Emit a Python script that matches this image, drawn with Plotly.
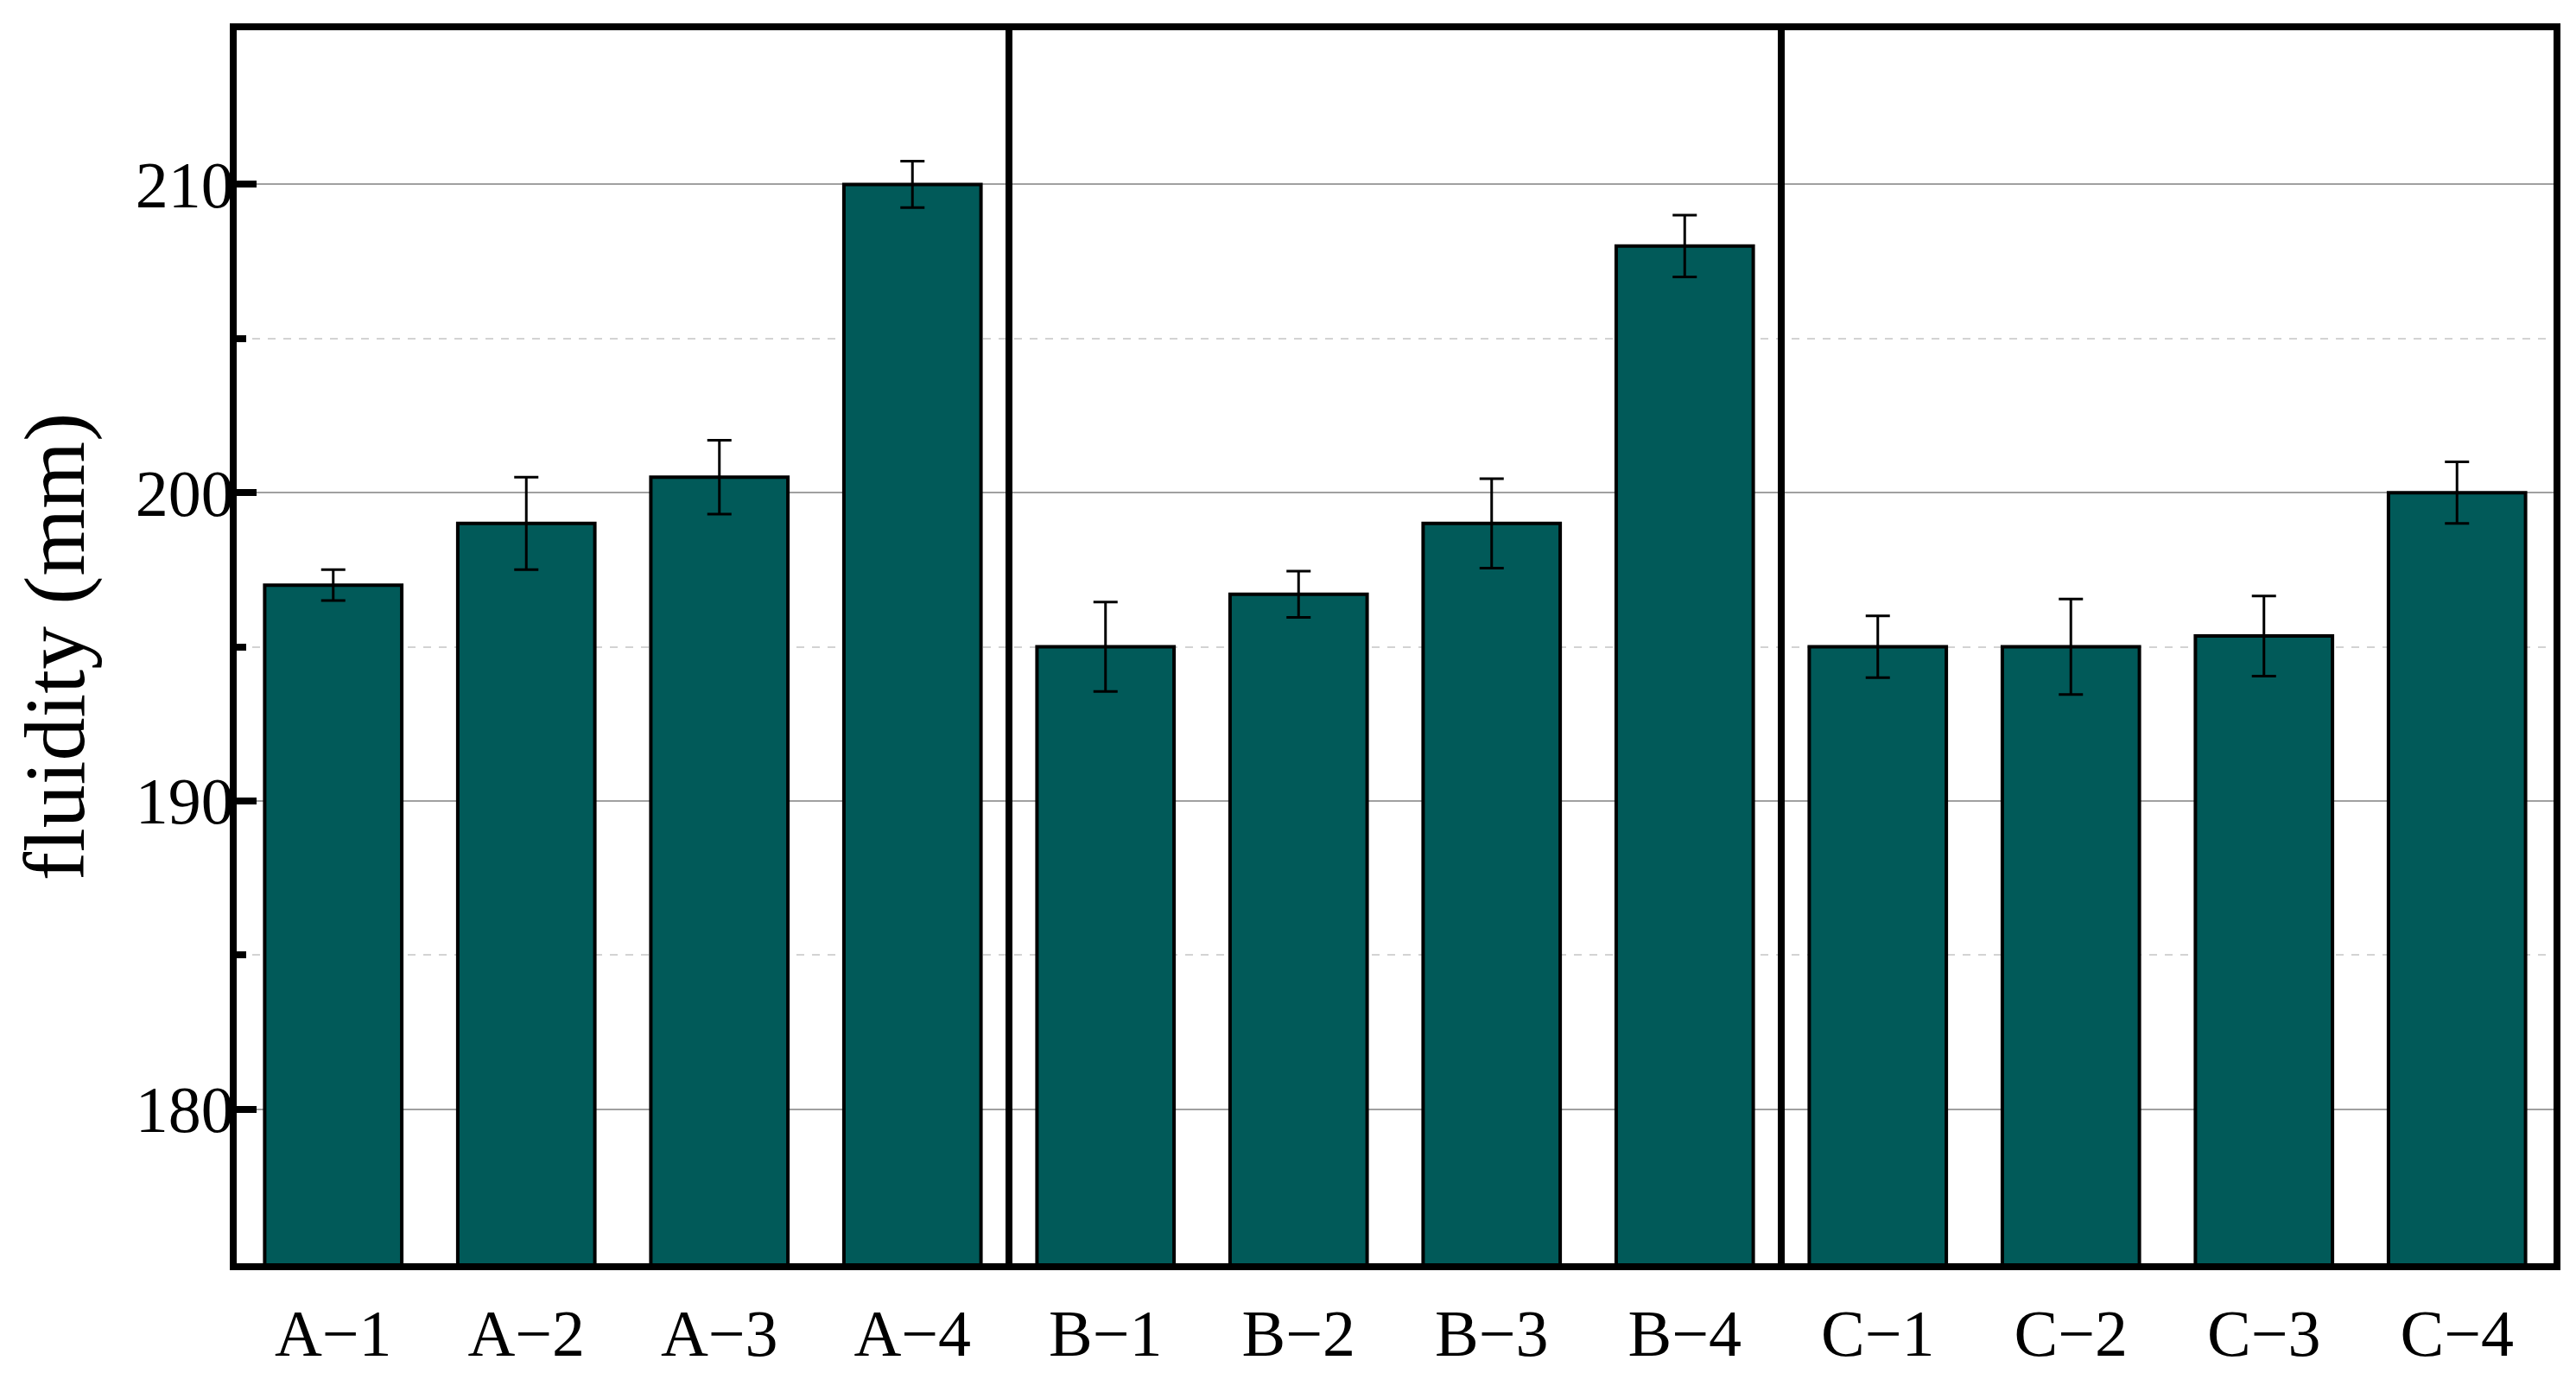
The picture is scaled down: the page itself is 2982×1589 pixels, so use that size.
import plotly.graph_objects as go

# ---- data ----
categories = ["A−1", "A−2", "A−3", "A−4",
              "B−1", "B−2", "B−3", "B−4",
              "C−1", "C−2", "C−3", "C−4"]
values = [197.0, 199.0, 200.5, 210.0,
          195.0, 196.7, 199.0, 208.0,
          195.0, 195.0, 195.35, 200.0]
errors = [0.5, 1.5, 1.2, 0.75,
          1.45, 0.75, 1.45, 1.0,
          1.0, 1.55, 1.3, 1.0]
y_major_ticks = [180, 190, 200, 210]
y_minor_ticks = [185, 195, 205]
group_boundaries = [3.5, 7.5]

FONT = "Liberation Serif, Times New Roman, serif"

fig = go.Figure(
    go.Bar(
        x=categories,
        y=values,
        width=0.71,
        marker=dict(color="#015A59", line=dict(color="black", width=4)),
        error_y=dict(type="data", array=errors, visible=True,
                     color="black", thickness=3, width=14),
    )
)

for xb in group_boundaries:
    fig.add_shape(type="line", xref="x", yref="paper",
                  x0=xb, x1=xb, y0=0, y1=1,
                  line=dict(color="black", width=8), layer="above")

fig.update_layout(
    width=2982, height=1589,
    margin=dict(l=266, r=34, t=27, b=119),
    plot_bgcolor="white", paper_bgcolor="white",
    showlegend=False,
    font=dict(family=FONT, color="black"),
)

fig.update_xaxes(
    type="category",
    range=[-0.5, 11.5],
    showline=True, linewidth=8, linecolor="black", mirror=True,
    ticks="outside", ticklen=8, tickcolor="rgba(0,0,0,0)",
    tickfont=dict(size=76, family=FONT, color="black"),
    showgrid=False, zeroline=False,
)

fig.update_yaxes(
    range=[175, 215],
    tickvals=y_major_ticks,
    showline=True, linewidth=8, linecolor="black", mirror=True,
    ticks="inside", ticklen=23, tickwidth=8, tickcolor="black",
    tickfont=dict(size=76, family=FONT, color="black"),
    ticklabelstandoff=-20,
    showgrid=True, gridcolor="#a0a0a0", gridwidth=2,
    zeroline=False,
    minor=dict(tickvals=y_minor_ticks, ticks="inside", ticklen=11,
               tickwidth=8, tickcolor="black",
               showgrid=True, gridcolor="#d3d3d3", gridwidth=2,
               griddash="dash"),
    title=dict(text="fluidity (mm)", font=dict(size=100, family=FONT),
               standoff=38),
)

fig.write_html("out.html")
